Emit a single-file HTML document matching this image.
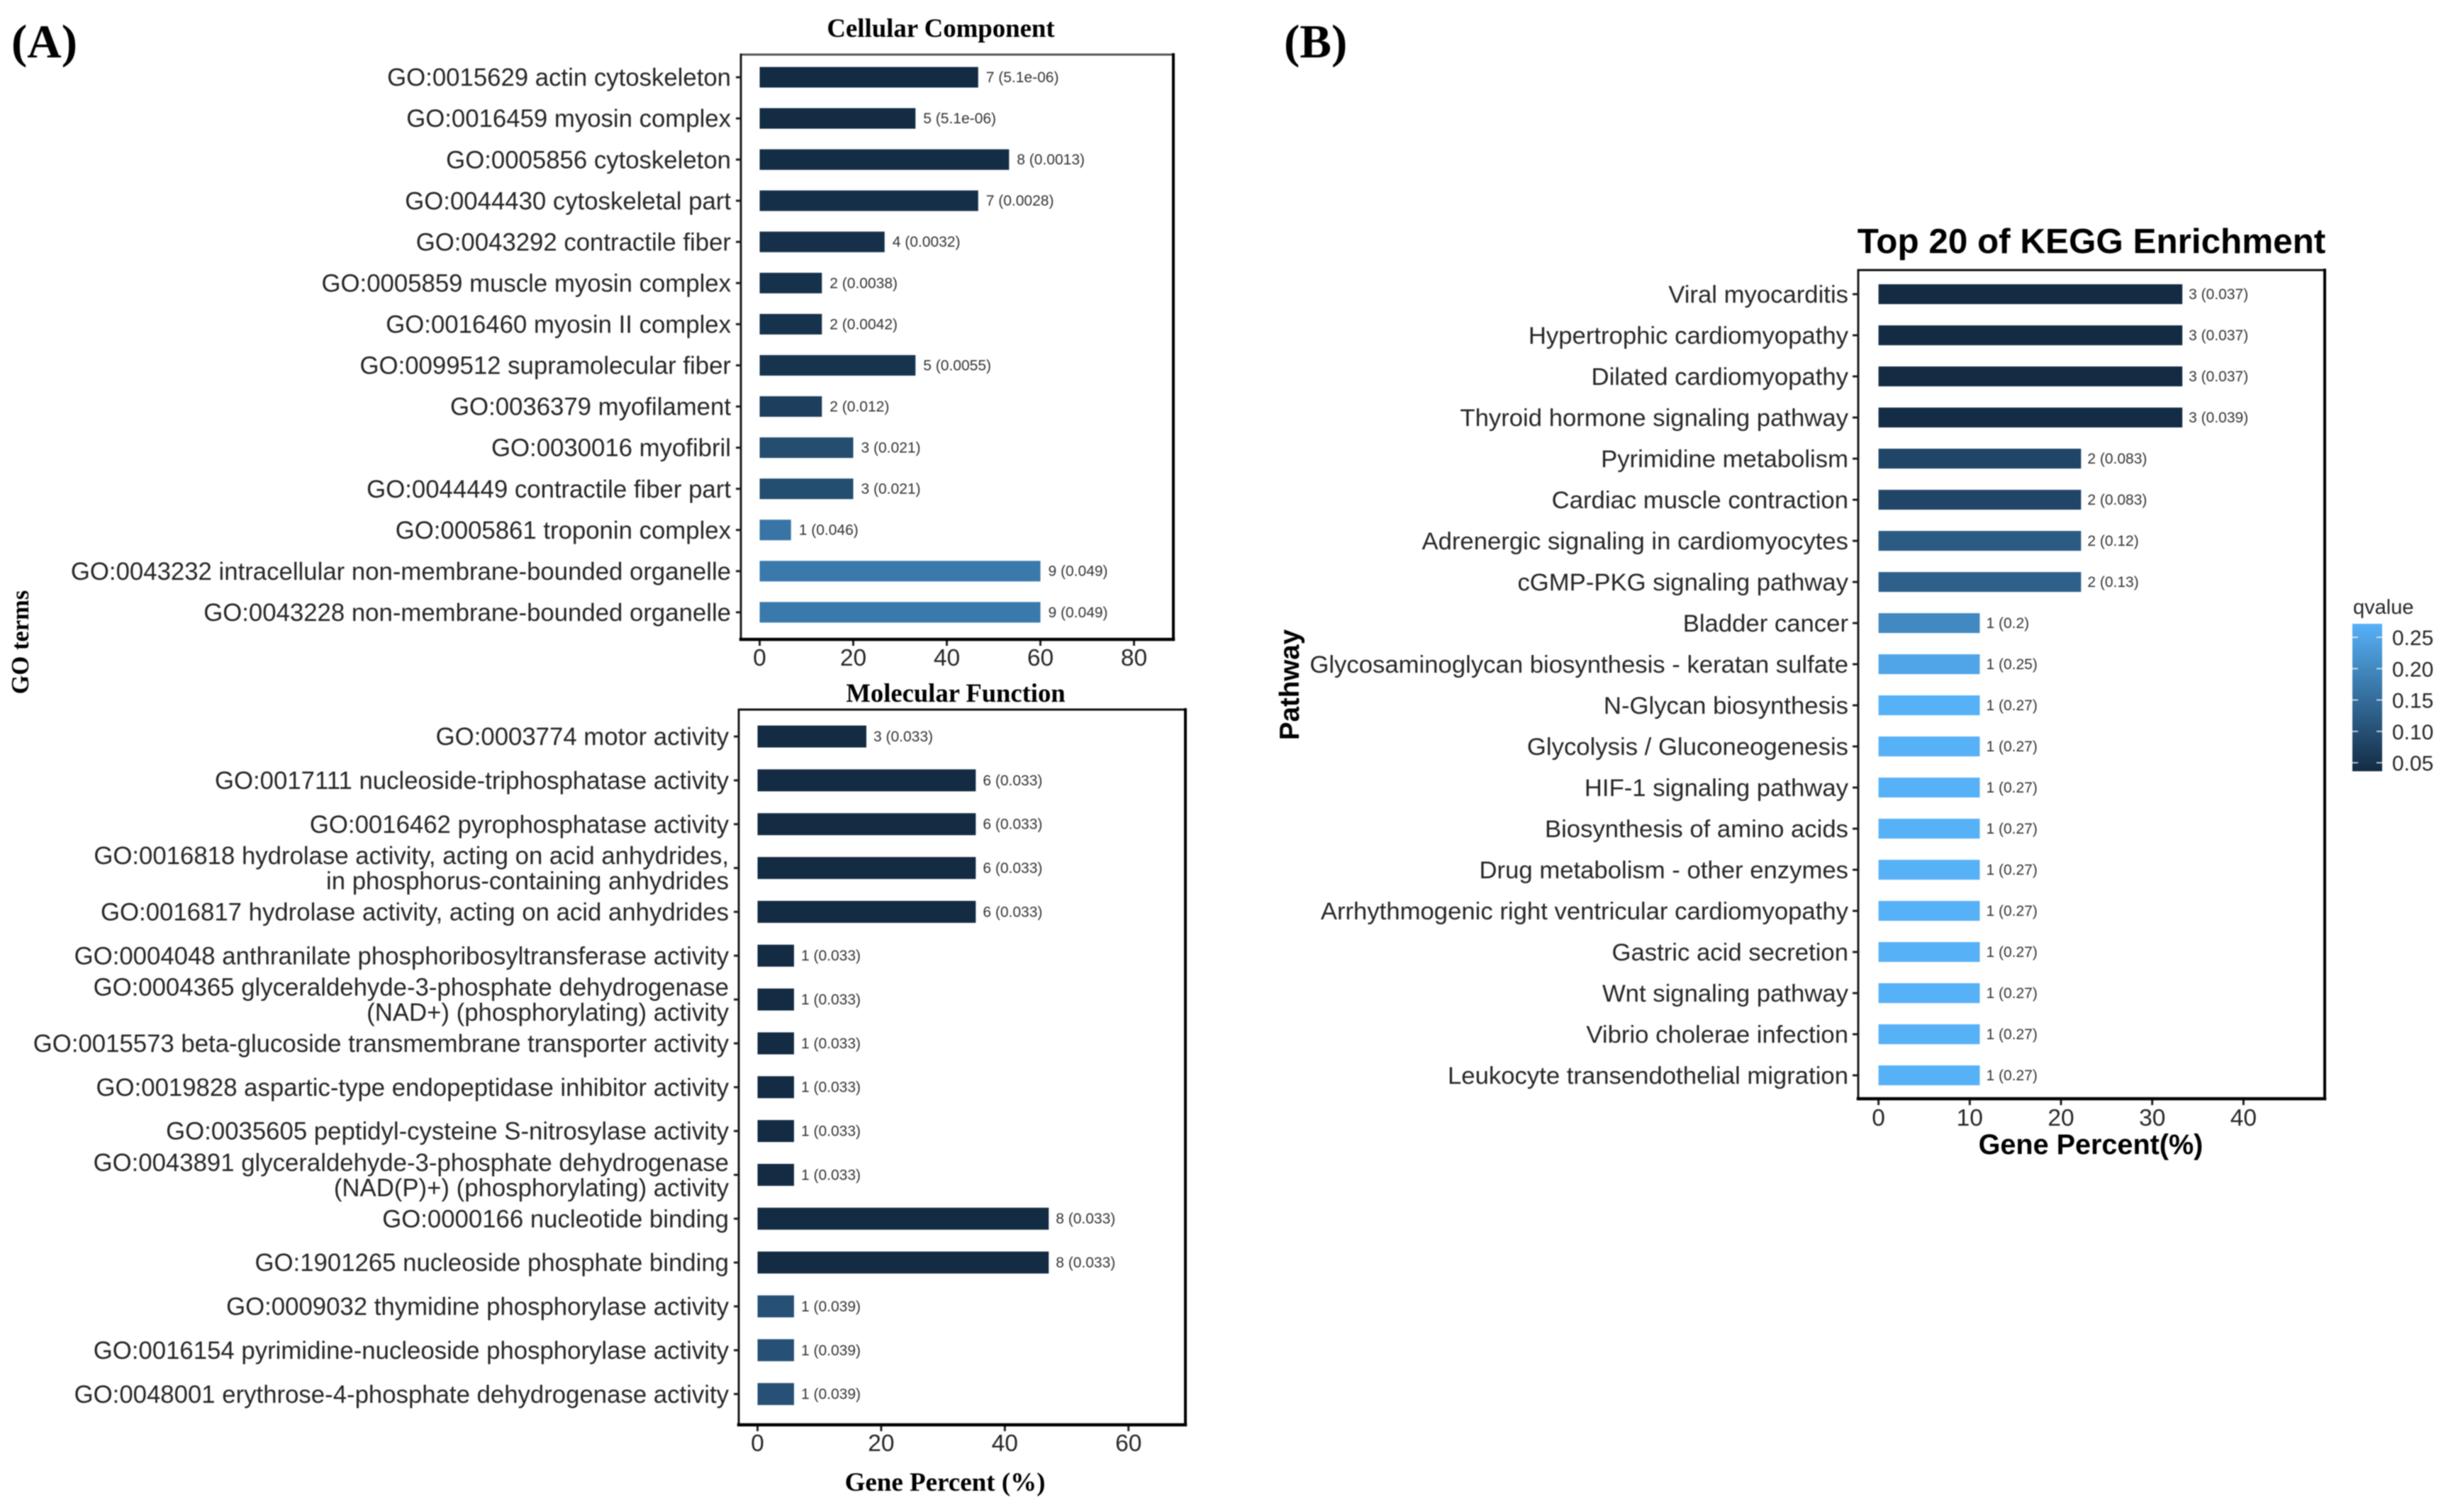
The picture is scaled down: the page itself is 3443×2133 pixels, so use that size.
<!DOCTYPE html>
<html lang="en">
<head>
<meta charset="utf-8">
<title>GO and KEGG enrichment charts</title>
<style>
html,body{margin:0;padding:0;background:#fff;}
body{width:3443px;height:2133px;overflow:hidden;}
svg{display:block;filter:blur(0.9px);}
.tick{font-family:"Liberation Sans",sans-serif;fill:#262626;}
.val{font-family:"Liberation Sans",sans-serif;fill:#333;font-size:21px;}
.serifb{font-family:"Liberation Serif",serif;font-weight:bold;fill:#000;}
.sansb{font-family:"Liberation Sans",sans-serif;font-weight:bold;fill:#000;}
</style>
</head>
<body>
<svg id="fig" xmlns="http://www.w3.org/2000/svg" width="3443" height="2133" viewBox="0 0 3443 2133">
  <defs>
    <linearGradient id="qgrad" x1="0" y1="1" x2="0" y2="0">
      <stop offset="0" stop-color="#132B43"/>
      <stop offset="1" stop-color="#56B1F7"/>
    </linearGradient>
  </defs>
  <rect width="3443" height="2133" fill="#fff"/>
  <text class="serifb" x="16" y="81" font-size="67">(A)</text>
  <text class="serifb" x="1811" y="81" font-size="67">(B)</text>
  <text class="serifb" x="1327" y="52" font-size="36.8" text-anchor="middle">Cellular Component</text>
  <text class="serifb" x="1348" y="990" font-size="36.6" text-anchor="middle">Molecular Function</text>
  <text class="serifb" transform="translate(40,906) rotate(-90)" font-size="34.5" text-anchor="middle">GO terms</text>
  <text class="serifb" x="1333" y="2103" font-size="37" text-anchor="middle">Gene Percent (%)</text>
  <text class="sansb" x="2950" y="357" font-size="49.4" text-anchor="middle">Top 20 of KEGG Enrichment</text>
  <text class="sansb" transform="translate(1832,966) rotate(-90)" font-size="38.5" text-anchor="middle">Pathway</text>
  <text class="sansb" x="2949" y="1628" font-size="39.6" text-anchor="middle">Gene Percent(%)</text>
  <g id="cc"></g>
  <g id="mf"></g>
  <g id="kegg"></g>
  <g id="legend">
    <text class="tick" x="3319" y="866" font-size="29">qvalue</text>
    <rect x="3318" y="880" width="42" height="208" fill="url(#qgrad)"/>
  </g>
</svg>
<script>
/* Cellular Component */
const ccTerms = ["GO:0015629 actin cytoskeleton","GO:0016459 myosin complex","GO:0005856 cytoskeleton","GO:0044430 cytoskeletal part","GO:0043292 contractile fiber","GO:0005859 muscle myosin complex","GO:0016460 myosin II complex","GO:0099512 supramolecular fiber","GO:0036379 myofilament","GO:0030016 myofibril","GO:0044449 contractile fiber part","GO:0005861 troponin complex","GO:0043232 intracellular non-membrane-bounded organelle","GO:0043228 non-membrane-bounded organelle"];
const ccPercent = [46.7,33.3,53.3,46.7,26.7,13.3,13.3,33.3,13.3,20,20,6.7,60,60];
const ccCounts = [7,5,8,7,4,2,2,5,2,3,3,1,9,9];
const ccQ = ["5.1e-06","5.1e-06","0.0013","0.0028","0.0032","0.0038","0.0042","0.0055","0.012","0.021","0.021","0.046","0.049","0.049"];
const ccXTicks = [0,20,40,60,80];

/* Molecular Function */
const mfTerms = ["GO:0003774 motor activity","GO:0017111 nucleoside-triphosphatase activity","GO:0016462 pyrophosphatase activity","GO:0016818 hydrolase activity, acting on acid anhydrides,|in phosphorus-containing anhydrides","GO:0016817 hydrolase activity, acting on acid anhydrides","GO:0004048 anthranilate phosphoribosyltransferase activity","GO:0004365 glyceraldehyde-3-phosphate dehydrogenase|(NAD+) (phosphorylating) activity","GO:0015573 beta-glucoside transmembrane transporter activity","GO:0019828 aspartic-type endopeptidase inhibitor activity","GO:0035605 peptidyl-cysteine S-nitrosylase activity","GO:0043891 glyceraldehyde-3-phosphate dehydrogenase|(NAD(P)+) (phosphorylating) activity","GO:0000166 nucleotide binding","GO:1901265 nucleoside phosphate binding","GO:0009032 thymidine phosphorylase activity","GO:0016154 pyrimidine-nucleoside phosphorylase activity","GO:0048001 erythrose-4-phosphate dehydrogenase activity"];
const mfPercent = [17.6,35.3,35.3,35.3,35.3,5.9,5.9,5.9,5.9,5.9,5.9,47.1,47.1,5.9,5.9,5.9];
const mfCounts = [3,6,6,6,6,1,1,1,1,1,1,8,8,1,1,1];
const mfQ = ["0.033","0.033","0.033","0.033","0.033","0.033","0.033","0.033","0.033","0.033","0.033","0.033","0.033","0.039","0.039","0.039"];
const mfXTicks = [0,20,40,60];

/* KEGG */
const keggTerms = ["Viral myocarditis","Hypertrophic cardiomyopathy","Dilated cardiomyopathy","Thyroid hormone signaling pathway","Pyrimidine metabolism","Cardiac muscle contraction","Adrenergic signaling in cardiomyocytes","cGMP-PKG signaling pathway","Bladder cancer","Glycosaminoglycan biosynthesis - keratan sulfate","N-Glycan biosynthesis","Glycolysis / Gluconeogenesis","HIF-1 signaling pathway","Biosynthesis of amino acids","Drug metabolism - other enzymes","Arrhythmogenic right ventricular cardiomyopathy","Gastric acid secretion","Wnt signaling pathway","Vibrio cholerae infection","Leukocyte transendothelial migration"];
const keggPercent = [33.3,33.3,33.3,33.3,22.2,22.2,22.2,22.2,11.1,11.1,11.1,11.1,11.1,11.1,11.1,11.1,11.1,11.1,11.1,11.1];
const keggCounts = [3,3,3,3,2,2,2,2,1,1,1,1,1,1,1,1,1,1,1,1];
const keggQ = ["0.037","0.037","0.037","0.039","0.083","0.083","0.12","0.13","0.2","0.25","0.27","0.27","0.27","0.27","0.27","0.27","0.27","0.27","0.27","0.27"];
const keggXTicks = [0,10,20,30,40];

/* Legend */
const legendTicks = [0.05,0.10,0.15,0.20,0.25];

const NS = "http://www.w3.org/2000/svg";
function make(tag, attrs, parent, text){
  const el = document.createElementNS(NS, tag);
  for (const k in attrs) el.setAttribute(k, attrs[k]);
  if (text !== undefined) el.textContent = text;
  parent.appendChild(el);
  return el;
}
function qColor(q, qLow, qHigh){
  const low = [19,43,67], high = [86,177,247];
  const t = Math.max(0, Math.min(1, (q - qLow) / (qHigh - qLow)));
  const c = low.map((v, i) => Math.round(v + (high[i] - v) * t));
  return "rgb(" + c.join(",") + ")";
}
function drawPanel(root, terms, percent, counts, qs, xTicks, o){
  const xScale = v => o.x0 + v * o.k;
  const yScale = i => o.y0 + i * o.pitch;
  const termG = make("g", {}, root);
  
  
  const barG = make("g", {}, root);
  
  
  terms.forEach((term, i) => {
    const y = yScale(i);
    const bar = make("rect", {x: xScale(0), y: y - o.barH / 2, width: xScale(percent[i]) - xScale(0), height: o.barH, fill: qColor(parseFloat(qs[i]), o.qLow, o.qHigh)}, barG);
    
    
    const val = make("text", {class: "val", x: xScale(percent[i]) + o.gap, y: y + 7}, barG, counts[i] + " (" + qs[i] + ")");
    
    
    const lines = term.split("|");
    lines.forEach((line, j) => {
      const ly = y + (j - (lines.length - 1) / 2) * o.lineGap + o.fs * 0.35;
      const t = make("text", {class: "tick", x: o.labelEnd, y: ly, "text-anchor": "end", "font-size": o.fs}, termG, line);
      
      
    });
    const tk = make("line", {x1: o.left - o.tickLen, x2: o.left, y1: y, y2: y, stroke: "#222", "stroke-width": 3}, termG);
    
    
  });
  xTicks.forEach(v => {
    const x = xScale(v);
    const tk = make("line", {x1: x, x2: x, y1: o.bottom, y2: o.bottom + 9, stroke: "#222", "stroke-width": 3}, root);
    
    
    const t = make("text", {class: "tick", x: x, y: o.xLabelY, "text-anchor": "middle", "font-size": 33.5}, root, String(v));
    
    
  });
  const sides = [
    [o.left, o.top, o.right, o.top, o.topColor, 3],
    [o.left, o.top, o.left, o.bottom, "#1a1a1a", 3],
    [o.right, o.top, o.right, o.bottom, "#000", 4],
    [o.left, o.bottom, o.right, o.bottom, "#000", 4.5]
  ];
  sides.forEach(s => {
    const b = make("line", {x1: s[0], y1: s[1], x2: s[2], y2: s[3], stroke: s[4], "stroke-width": s[5], "stroke-linecap": "square"}, root);
    
    
  });
}
drawPanel(document.getElementById("cc"), ccTerms, ccPercent, ccCounts, ccQ, ccXTicks,
  {left:1045,right:1655,top:77,bottom:902,x0:1071.5,k:6.6,y0:109,pitch:58.06,barH:29,labelEnd:1031,fs:34.75,lineGap:35.5,tickLen:7,gap:11,xLabelY:939,topColor:"#555",qLow:0,qHigh:0.084});
drawPanel(document.getElementById("mf"), mfTerms, mfPercent, mfCounts, mfQ, mfXTicks,
  {left:1042,right:1672,top:1001,bottom:2010,x0:1068.5,k:8.72,y0:1039,pitch:61.84,barH:31,labelEnd:1028,fs:34.75,lineGap:35.5,tickLen:7,gap:10,xLabelY:2047,topColor:"#111",qLow:0.033,qHigh:0.0545});
drawPanel(document.getElementById("kegg"), keggTerms, keggPercent, keggCounts, keggQ, keggXTicks,
  {left:2621,right:3279,top:381,bottom:1550,x0:2649.6,k:12.87,y0:415,pitch:58,barH:28,labelEnd:2607,fs:34.7,lineGap:35,tickLen:8,gap:9,xLabelY:1588,topColor:"#111",qLow:0.037,qHigh:0.27});

const legendY = v => 1076 - (v - 0.05) * 885;
const legendRoot = document.getElementById("legend");
legendTicks.forEach(v => {
  const y = legendY(v);
  const a = make("line", {x1: 3318, x2: 3326, y1: y, y2: y, stroke: "#fff", "stroke-width": 2, "stroke-opacity": 0.7}, legendRoot);
  
  
  const b = make("line", {x1: 3352, x2: 3360, y1: y, y2: y, stroke: "#fff", "stroke-width": 2, "stroke-opacity": 0.7}, legendRoot);
  
  
  const t = make("text", {class: "tick", x: 3374, y: y + 11, "font-size": 30}, legendRoot, v.toFixed(2));
  
  
});
</script>
</body>
</html>
